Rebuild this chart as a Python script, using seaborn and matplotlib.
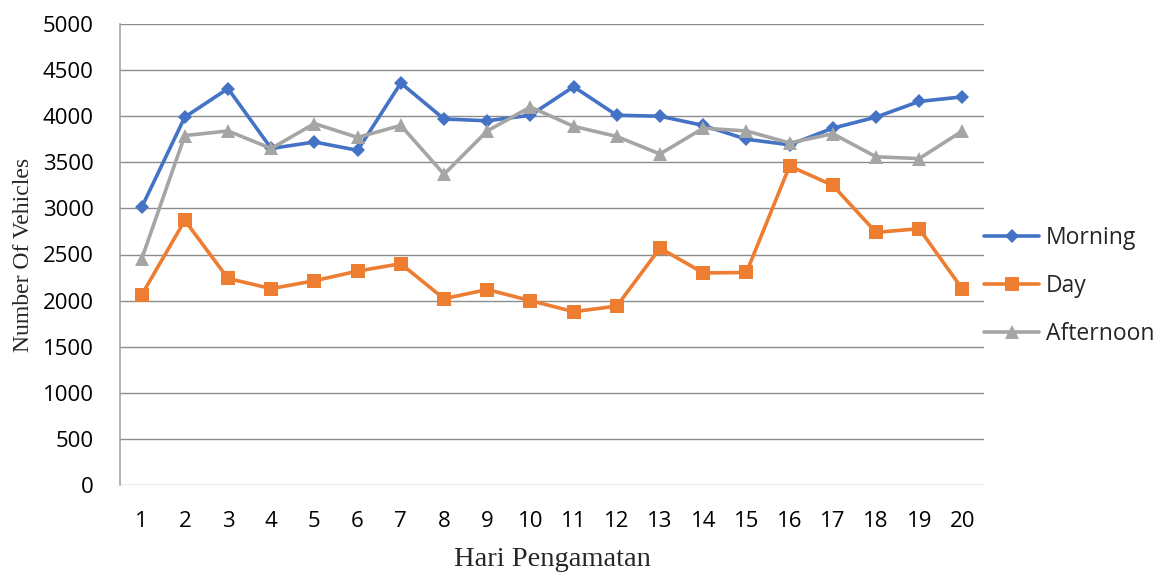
import pandas as pd
import matplotlib.pyplot as plt
import seaborn as sns

# Data
days = list(range(1, 21))
morning = [3010, 3990, 4300, 3650, 3720, 3630, 4360, 3970, 3950, 4010,
           4320, 4010, 4000, 3900, 3750, 3690, 3870, 3990, 4160, 4210]
day = [2060, 2870, 2240, 2130, 2215, 2320, 2400, 2020, 2120, 2000,
       1880, 1940, 2570, 2300, 2305, 3460, 3250, 2740, 2780, 2125]
afternoon = [2450, 3790, 3840, 3650, 3920, 3770, 3900, 3370, 3840, 4100,
             3890, 3780, 3590, 3870, 3840, 3710, 3810, 3560, 3540, 3840]

series_names = ['Morning', 'Day', 'Afternoon']
colors = ['#4472C4', '#ED7D31', '#A5A5A5']

sns.set_style('white')
plt.rcParams['font.family'] = ['Open Sans', 'DejaVu Sans']

df = pd.DataFrame({'Hari': days, 'Morning': morning, 'Day': day, 'Afternoon': afternoon})
long_df = df.melt(id_vars='Hari', var_name='Series', value_name='Vehicles')

fig = plt.figure(figsize=(11.62, 5.75), dpi=100)
ax = fig.add_axes([120 / 1162, 90 / 575, 864 / 1162, 461 / 575])

# Marker style for each series
marker_opts = {
    'Morning': dict(marker='D', markersize=7),
    'Day': dict(marker='s', markersize=10),
    'Afternoon': dict(marker='^', markersize=10),
}

for name, color in zip(series_names, colors):
    sub = long_df[long_df['Series'] == name]
    sns.lineplot(data=sub, x='Hari', y='Vehicles', ax=ax, color=color,
                 linewidth=2.6, markeredgewidth=0, label=name, **marker_opts[name])

ax.set_xlim(0.5, 20.5)
ax.set_ylim(0, 5000)
ax.set_xticks(days)
ax.set_yticks(range(0, 5001, 500))

ax.grid(axis='y', color='#8c8c8c', linewidth=1.0)
ax.grid(axis='x', visible=False)
ax.set_axisbelow(True)

for side in ['top', 'right', 'bottom']:
    ax.spines[side].set_visible(False)
ax.spines['left'].set_color('#a6a6a6')
ax.spines['left'].set_linewidth(1.2)

ax.tick_params(axis='y', length=6, width=1, color='#a6a6a6', pad=13, labelsize=16, labelcolor='black')
ax.tick_params(axis='x', length=0, pad=19, labelsize=16, labelcolor='black')

ax.set_xlabel('Hari Pengamatan', family='Liberation Serif', fontsize=20.5)
ax.set_ylabel('Number Of Vehicles', family='Liberation Serif', fontsize=17)
ax.xaxis.set_label_coords(0.5, -0.135)
ax.yaxis.set_label_coords(-0.100, 0.5)

ax.legend(loc='center left', bbox_to_anchor=(1.0, 0.431), frameon=False,
          fontsize=16.5, handlelength=2.4, handletextpad=0.3, labelspacing=1.05,
          borderaxespad=0, borderpad=0)

plt.savefig('out.png', dpi=100)
